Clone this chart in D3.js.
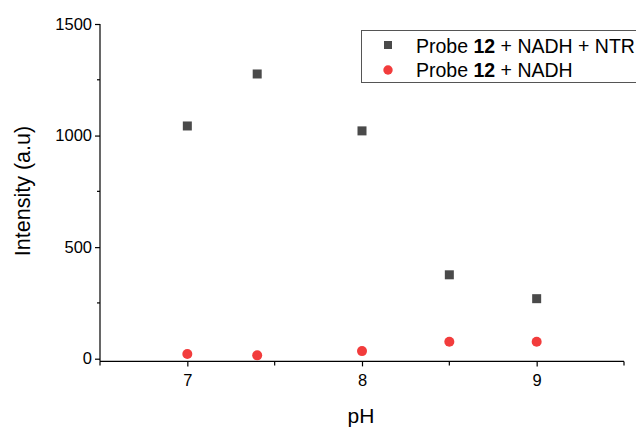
<!DOCTYPE html>
<html>
<head>
<meta charset="utf-8">
<script src="https://cdn.jsdelivr.net/npm/d3@7"></script>
<style>
  html, body { margin: 0; padding: 0; background: #fff; }
  svg { display: block; font-family: "Liberation Sans", Arial, sans-serif; }
</style>
</head>
<body>
<svg id="chart" width="636" height="428"></svg>
<script>
// pH values and measured intensities
const phValues = [7, 7.4, 8, 8.5, 9];
const withNTR = [1043, 1276, 1021, 376, 269];
const withoutNTR = [21, 15, 34, 76, 76];
const seriesNames = ["Probe 12 + NADH + NTR", "Probe 12 + NADH"];
const xTicks = [7, 8, 9];
const xMinorTicks = [6.5, 7.5, 8.5, 9.5];
const yTicks = [0, 500, 1000, 1500];
const yMinorTicks = [250, 750, 1250];

const svg = d3.select("#chart");
const plotLeft = 100, plotRight = 624, plotTop = 24, zeroY = 358.7;
const fontFamily = "Liberation Sans, Arial, sans-serif";

const x = d3.scaleLinear().domain([6.5, 9.5]).range([plotLeft, plotRight]);
const yPerUnit = (zeroY - plotTop) / 1500;
const y = d3.scaleLinear().domain([-12, 1500]).range([zeroY + 12 * yPerUnit, plotTop]);

const axisColor = "#000";

// Y axis
const yAxis = svg.append("g").attr("transform", `translate(${plotLeft},0)`)
  .call(d3.axisLeft(y).tickValues(yTicks).tickSize(5).tickSizeOuter(0).tickPadding(3).tickFormat(d3.format("d")));
yAxis.select(".domain").remove();
yAxis.append("line").attr("x1", 0).attr("x2", 0).attr("y1", plotTop).attr("y2", y(-12))
  .attr("stroke", axisColor).attr("stroke-width", 1.2);
yAxis.selectAll("text").style("font-size", "16.5px").style("font-family", fontFamily).attr("fill", "#000");
yAxis.selectAll(".tick line").attr("stroke-width", 1.2);
svg.append("g").selectAll("line").data(yMinorTicks).join("line")
  .attr("x1", plotLeft - 3).attr("x2", plotLeft).attr("y1", d => y(d)).attr("y2", d => y(d))
  .attr("stroke", axisColor).attr("stroke-width", 1.2);

// X axis
const xAxisY = y(-12);
const xAxis = svg.append("g").attr("transform", `translate(0,${xAxisY})`)
  .call(d3.axisBottom(x).tickValues(xTicks).tickSize(5).tickSizeOuter(0).tickPadding(8).tickFormat(d3.format("d")));
xAxis.select(".domain").remove();
xAxis.append("line").attr("x1", plotLeft).attr("x2", plotRight).attr("y1", 0).attr("y2", 0)
  .attr("stroke", axisColor).attr("stroke-width", 1.2);
xAxis.selectAll("text").style("font-size", "16.5px").style("font-family", fontFamily).attr("fill", "#000");
xAxis.selectAll(".tick line").attr("stroke-width", 1.2);
svg.append("g").selectAll("line").data(xMinorTicks).join("line")
  .attr("x1", d => x(d)).attr("x2", d => x(d)).attr("y1", xAxisY).attr("y2", xAxisY + 4)
  .attr("stroke", axisColor).attr("stroke-width", 1.2);

// Axis titles
svg.append("text").attr("x", 361).attr("y", 423).attr("text-anchor", "middle")
  .style("font-size", "21px").text("pH");
svg.append("text").attr("transform", "translate(30,191) rotate(-90)")
  .attr("text-anchor", "middle").style("font-size", "21.5px").text("Intensity (a.u)");

// Data markers
const squareColor = "#4a4a4a", circleColor = "#f23c3c";
const sq = 9;
svg.append("g").selectAll("rect").data(phValues.map((p, i) => [p, withNTR[i]])).join("rect")
  .attr("x", d => x(d[0]) - sq / 2).attr("y", d => y(d[1]) - sq / 2)
  .attr("width", sq).attr("height", sq).attr("fill", squareColor);
svg.append("g").selectAll("circle").data(phValues.map((p, i) => [p, withoutNTR[i]])).join("circle")
  .attr("cx", d => x(d[0])).attr("cy", d => y(d[1])).attr("r", 5).attr("fill", circleColor);

// Legend
const legend = svg.append("g");
legend.append("rect").attr("x", 361.5).attr("y", 30.5).attr("width", 290).attr("height", 52)
  .attr("fill", "#fff").attr("stroke", "#555").attr("stroke-width", 1);
legend.append("rect").attr("x", 388 - 4).attr("y", 45 - 4).attr("width", 8).attr("height", 8).attr("fill", squareColor);
legend.append("circle").attr("cx", 388).attr("cy", 70).attr("r", 4.7).attr("fill", circleColor);
[0, 1].forEach(i => {
  const parts = seriesNames[i].split("12");
  const t = legend.append("text").attr("x", 416).attr("y", i === 0 ? 53 : 77).style("font-size", "19.5px");
  t.append("tspan").text(parts[0]);
  t.append("tspan").attr("font-weight", "bold").text("12");
  t.append("tspan").text(parts[1]);
});
</script>
</body>
</html>
